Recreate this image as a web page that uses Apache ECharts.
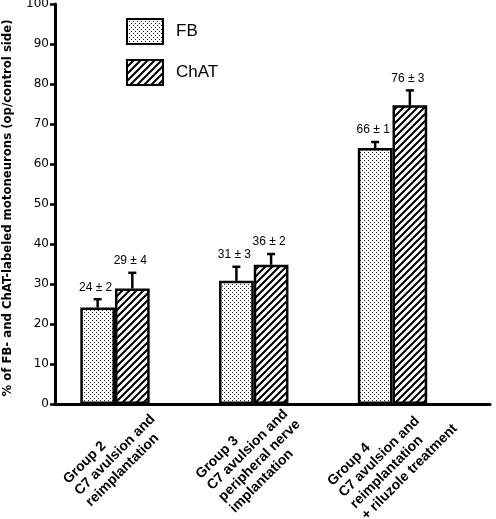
<!DOCTYPE html>
<html><head><meta charset="utf-8">
<script src="https://cdn.jsdelivr.net/npm/echarts@6/dist/echarts.min.js"></script>
<style>html,body{margin:0;padding:0;background:#fff}#c{width:496px;height:519px}</style>
</head><body><div id="c"></div>
<script>
// ---- data ----
const categories = [
  'Group 2\nC7 avulsion and\nreimplantation',
  'Group 3\nC7 avulsion and\nperipheral nerve\nimplantation',
  'Group 4\nC7 avulsion and\nreimplantation\n+ riluzole treatment'
];
const seriesNames = ['FB', 'ChAT'];
const fbValues = [24.1, 30.8, 64.0];
const fbErrors = [2.1, 3.5, 1.5];
const fbLabels = ['24 ± 2', '31 ± 3', '66 ± 1'];
const chatValues = [28.9, 34.8, 74.7];
const chatErrors = [3.9, 2.7, 3.7];
const chatLabels = ['29 ± 4', '36 ± 2', '76 ± 3'];
const yMin = 0, yMax = 100, yInterval = 10;
const yAxisName = '% of FB- and ChAT-labeled motoneurons (op/control side)';

// ---- patterns ----
function dotPattern() {
  const c = document.createElement('canvas'); c.width = 4; c.height = 4;
  const g = c.getContext('2d');
  g.fillStyle = '#fff'; g.fillRect(0, 0, 4, 4);
  g.fillStyle = '#222'; g.fillRect(0, 0, 1, 1); g.fillRect(2, 2, 1, 1);
  return c;
}
function hatchPattern() {
  const s = 7;
  const c = document.createElement('canvas'); c.width = s; c.height = s;
  const g = c.getContext('2d');
  g.fillStyle = '#fff'; g.fillRect(0, 0, s, s);
  g.strokeStyle = '#000'; g.lineWidth = 2;
  g.beginPath();
  g.moveTo(-1, s + 1); g.lineTo(s + 1, -1);
  g.moveTo(-1, 1); g.lineTo(1, -1);
  g.moveTo(s - 1, s + 1); g.lineTo(s + 1, s - 1);
  g.stroke();
  return c;
}
const fbFill = { image: dotPattern(), repeat: 'repeat' };
const chatFill = { image: hatchPattern(), repeat: 'repeat' };

function errSeries(values, errors, labels, side) {
  return {
    type: 'custom', xAxisIndex: 1, yAxisIndex: 1, z: 5,
    data: values.map((v, i) => [i, v, errors[i]]),
    renderItem(params, api) {
      const i = api.value(0), v = api.value(1), e = api.value(2);
      const band = api.size([1, 0])[0];
      const base = api.coord([i, v]);
      const top = api.coord([i, v + e]);
      const x = base[0] + side * band / 8;
      return { type: 'group', children: [
        { type: 'line', shape: { x1: x, y1: base[1], x2: x, y2: top[1] }, style: { stroke: '#000', lineWidth: 2.5 } },
        { type: 'line', shape: { x1: x - 4, y1: top[1], x2: x + 4, y2: top[1] }, style: { stroke: '#000', lineWidth: 2.5 } },
        { type: 'text', x: x - 2, y: top[1] - 6, style: { text: labels[params.dataIndex], align: 'center', verticalAlign: 'bottom', font: '12px "Liberation Sans", Arial, sans-serif', fill: '#000' } }
      ]};
    }
  };
}

const chart = echarts.init(document.getElementById('c'));
chart.setOption({
  animation: false,
  backgroundColor: '#fff',
  legend: {
    data: seriesNames, orient: 'vertical', left: 126, top: 18, padding: 0,
    icon: 'rect', itemWidth: 36, itemHeight: 25, itemGap: 14,
    textStyle: { fontFamily: 'Liberation Sans', fontSize: 17, color: '#000', padding: [0, 0, 0, 8] }
  },
  grid: [
    { left: 55, right: 6, top: 4, bottom: 115, outerBoundsMode: 'none' },
    { left: 45.6, right: 34.1, top: 4, bottom: 115, outerBoundsMode: 'none' }
  ],
  xAxis: [
    { type: 'value', gridIndex: 0, min: 0, max: 1, axisLine: { show: true, onZero: false, lineStyle: { color: '#000', width: 3 } },
      axisTick: { show: false }, axisLabel: { show: false }, splitLine: { show: false } },
    { type: 'category', gridIndex: 1, data: categories, axisLine: { show: false }, axisTick: { show: false },
      axisLabel: {
        interval: 0, rotate: 45, margin: 51, align: 'center', verticalAlign: 'middle',
        formatter: v => v.split('\n').map(l => '{a|' + l + '}').join('\n'),
        rich: { a: { align: 'left', fontFamily: 'Liberation Sans', fontWeight: 'bold', fontSize: 14, lineHeight: 16, color: '#000' } }
      } }
  ],
  yAxis: [
    { type: 'value', gridIndex: 0, min: yMin, max: yMax, interval: yInterval,
      name: yAxisName, nameLocation: 'middle', nameGap: 41,
      nameTextStyle: { fontFamily: 'DejaVu Sans', fontWeight: 'bold', fontSize: 11.7, color: '#000', padding: [0, 8, 0, 0] },
      axisLine: { show: true, lineStyle: { color: '#000', width: 3 } },
      axisTick: { show: true, length: 5, lineStyle: { color: '#000', width: 2.5 } },
      axisLabel: { margin: 6, fontFamily: 'DejaVu Sans', fontSize: 12, color: '#000' },
      splitLine: { show: false } },
    { type: 'value', gridIndex: 1, min: yMin, max: yMax, show: false }
  ],
  series: [
    { name: seriesNames[0], type: 'bar', xAxisIndex: 1, yAxisIndex: 1, data: fbValues, barGap: 0, barCategoryGap: '50%',
      itemStyle: { color: fbFill, borderColor: '#000', borderWidth: 2.5 } },
    { name: seriesNames[1], type: 'bar', xAxisIndex: 1, yAxisIndex: 1, data: chatValues, barGap: 0, barCategoryGap: '50%',
      itemStyle: { color: chatFill, borderColor: '#000', borderWidth: 2.5 } },
    errSeries(fbValues, fbErrors, fbLabels, -1),
    errSeries(chatValues, chatErrors, chatLabels, 1)
  ]
});
</script></body></html>
